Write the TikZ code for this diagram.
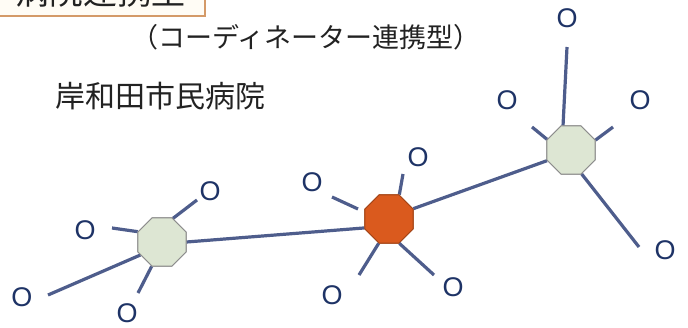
\documentclass[tikz,border=0pt]{standalone}
\usepackage{fontspec}
\setmainfont{Liberation Sans}
\newfontfamily\jp{Noto Sans CJK JP}
\usetikzlibrary{shapes.geometric}
\definecolor{spoke}{HTML}{4E5D8C}
\definecolor{letter}{HTML}{1E3366}
\definecolor{hubgreen}{HTML}{DDE6D3}
\definecolor{huborange}{HTML}{DA5A1E}
\definecolor{boxline}{HTML}{D49A68}
\definecolor{boxfill}{HTML}{FFFCF5}
\definecolor{jptext}{HTML}{222222}
\tikzset{
  hub/.style={regular polygon, regular polygon sides=8, minimum size=52pt, inner sep=0pt, line width=1pt},
  greenhub/.style={hub, fill=hubgreen, draw=black!45},
  orangehub/.style={hub, fill=huborange, draw=huborange!75!black},
  link/.style={draw=spoke, line width=3.2pt},
  olabel/.style={font=\fontsize{27}{27}\selectfont, text=letter, inner sep=0pt},
  jplabel/.style={text=jptext, inner sep=0pt}
}
\begin{document}
\begin{tikzpicture}[x=1pt,y=-1pt]
\useasboundingbox (0,0) rectangle (688,327);
\clip (0,0) rectangle (688,327);
\fill[white] (0,0) rectangle (688,327);
% title box (cut off at top)
\draw[boxline, fill=boxfill, line width=1.6pt] (-5,-40) rectangle (205,16);
\node[jplabel, anchor=base west, font=\jp\fontsize{34}{34}\selectfont] (boxtext) at (15,4) {病院連携型};
% texts
\node[jplabel, font=\jp\fontsize{27}{27}\selectfont] (title) at (306,37) {（コーディネーター連携型）};
\node[jplabel, font=\jp\fontsize{30}{30}\selectfont] (hosp) at (160,96) {岸和田市民病院};
% hubs
\node[greenhub] (L) at (162,242) {};
\node[orangehub] (C) at (389,219) {};
\node[greenhub] (R) at (571,150) {};
% labels
\node[olabel] (L1) at (210,191) {O};
\node[olabel] (L2) at (85,230) {O};
\node[olabel] (L3) at (22,297) {O};
\node[olabel] (L4) at (127,313) {O};
\node[olabel] (C1) at (418,157) {O};
\node[olabel] (C2) at (312,182) {O};
\node[olabel] (C3) at (332,295) {O};
\node[olabel] (C4) at (453,287) {O};
\node[olabel] (R1) at (567,18) {O};
\node[olabel] (R2) at (507,100) {O};
\node[olabel] (R3) at (640,100) {O};
\node[olabel] (R4) at (665,250) {O};
% free ends
\coordinate (l1) at (197,200);
\coordinate (l2) at (112,228);
\coordinate (l3) at (48,295);
\coordinate (l4) at (138,293);
\coordinate (c1) at (403,174);
\coordinate (c2a) at (332,197);
\coordinate (c2b) at (358,209);
\coordinate (c3) at (359,275);
\coordinate (c4) at (434,275);
\coordinate (r1) at (567,47);
\coordinate (r2) at (532,127);
\coordinate (r3) at (613,127);
\coordinate (r4) at (639,247);
% connectors
\path[link] (L.0) -- (C.200);
\path[link] (C.23) -- (R.204);
\path[link] (L.65) -- (l1);
\path[link] (L.157) -- (l2);
\path[link] (L.211) -- (l3);
\path[link] (L.247) -- (l4);
\path[link] (C.67) -- (c1);
\path[link] (c2a) -- (c2b);
\path[link] (C.247) -- (c3);
\path[link] (C.293) -- (c4);
\path[link] (R.108) -- (r1);
\path[link] (R.156) -- (r2);
\path[link] (R.22) -- (r3);
\path[link] (R.294) -- (r4);
% redraw hubs on top
\node[greenhub] at (L) {};
\node[orangehub] at (C) {};
\node[greenhub] at (R) {};
\end{tikzpicture}
\end{document}
